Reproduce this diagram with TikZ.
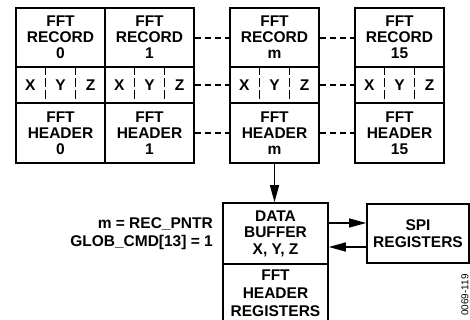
\documentclass[tikz,border=0pt]{standalone}
\usepackage{fontspec}
\setmainfont{Liberation Sans}
\usetikzlibrary{arrows.meta,calc}
\begin{document}
\begin{tikzpicture}[x=1pt,y=-1pt,
  box/.style={draw, line width=1.6pt, inner sep=0pt, align=center, font=\fontsize{15.5}{16}\selectfont\bfseries},
  lbl/.style={inner sep=0pt, font=\fontsize{15.5}{16}\selectfont\bfseries},
  link/.style={line width=1.3pt, dash pattern=on 6pt off 4pt},
  tick/.style={line width=0.9pt, dash pattern=on 9pt off 3pt},
  arr/.style={line width=1.3pt, -{Triangle[length=17pt,width=9pt]}}
]
\useasboundingbox (0,0) rectangle (470,320);
\clip (0,0) rectangle (470,320);
\foreach \n/\cx/\t in {0/60.5/0, 1/149.5/1, m/274.5/m, 15/399.5/15}{
  \node[box, minimum width=89pt, minimum height=59pt] (r\n) at (\cx,37.5) {FFT\\RECORD\\\t};
  \node[box, minimum width=89pt, minimum height=36pt] (x\n) at (\cx,85) {};
  \node[box, minimum width=89pt, minimum height=60pt] (h\n) at (\cx,133) {FFT\\HEADER\\\t};
  \node[lbl] (xx\n) at ($(x\n.west)!1/6!(x\n.east)$) {X};
  \node[lbl] (xy\n) at ($(x\n.west)!1/2!(x\n.east)$) {Y};
  \node[lbl] (xz\n) at ($(x\n.west)!5/6!(x\n.east)$) {Z};
  \draw[tick] ($(x\n.north west)!1/3!(x\n.north east)$) -- ($(x\n.south west)!1/3!(x\n.south east)$);
  \draw[tick] ($(x\n.north west)!2/3!(x\n.north east)$) -- ($(x\n.south west)!2/3!(x\n.south east)$);
}
\foreach \a/\b in {1/m, m/15}{
  \draw[link] ([yshift=-0.5pt]r\a.east) -- ([yshift=-0.5pt]r\b.west);
  \draw[link] (x\a.east) -- (x\b.west);
  \draw[link] (h\a.east) -- (h\b.west);
}
\node[box, minimum width=105pt, minimum height=61pt, font=\fontsize{15.5}{16.5}\selectfont\bfseries] (db) at (275.5,233.5) {DATA\\BUFFER\\X, Y, Z};
\node[box, minimum width=105pt, minimum height=58pt, font=\fontsize{15.5}{18}\selectfont\bfseries] (hr) at (275.5,293) {FFT\\HEADER\\REGISTERS};
\node[box, minimum width=102pt, minimum height=59pt, font=\fontsize{15.5}{17}\selectfont\bfseries] (spi) at (418,233.5) {SPI\\REGISTERS};
\draw[arr] (hm.south) -- (hm.south |- db.north);
\draw[arr] ([yshift=10.5pt]db.east) -- ([yshift=10.5pt]db.east -| spi.west);
\draw[arr] ([yshift=-13.5pt]spi.west) -- ([yshift=-13.5pt]spi.west -| db.east);
\node[lbl, anchor=east, align=right, font=\fontsize{15.5}{18}\selectfont\bfseries] (cond) at (213,234) {m = REC\_PNTR\\GLOB\_CMD[13] = 1};
\node[inner sep=0pt, rotate=90, font=\fontsize{10}{12}\selectfont] (fig) at (465,295) {0069-119};
\end{tikzpicture}
\end{document}
